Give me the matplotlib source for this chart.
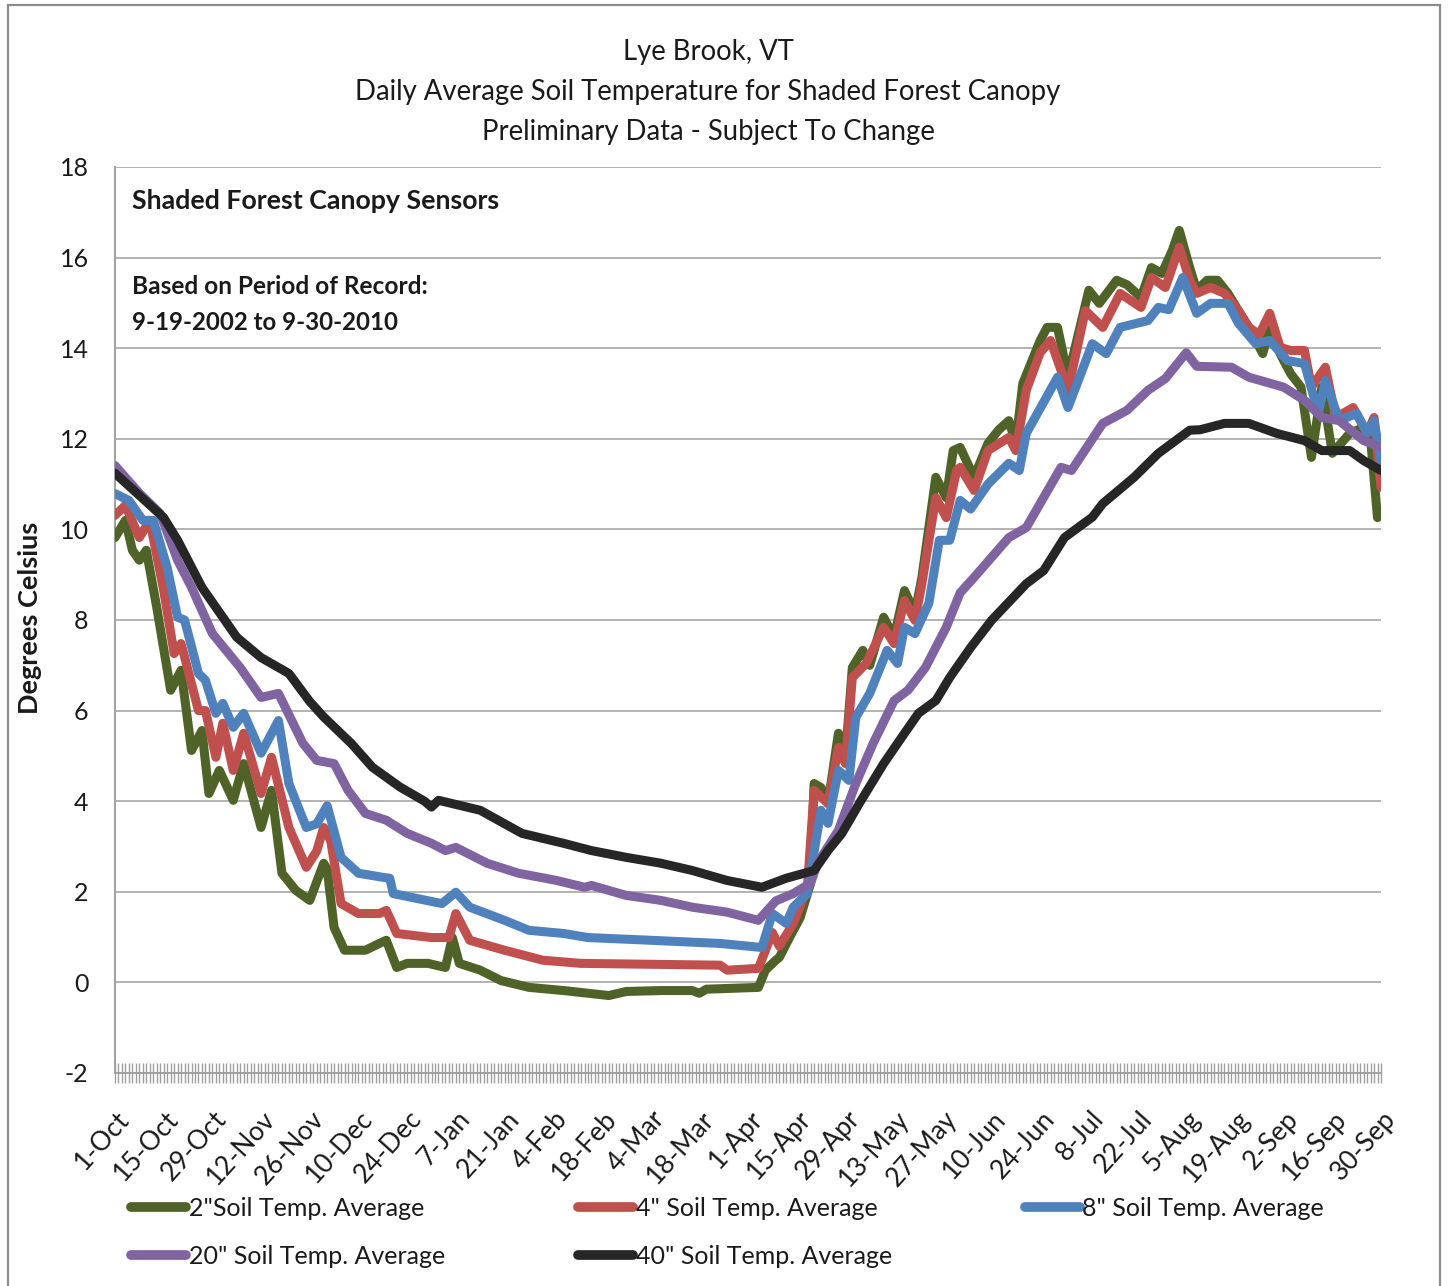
import matplotlib
matplotlib.use("Agg")
import matplotlib.pyplot as plt
from matplotlib.patches import Rectangle
from matplotlib.transforms import ScaledTranslation
import numpy as np

plt.rcParams['font.family'] = ['Lato', 'DejaVu Sans']
plt.rcParams['axes.unicode_minus'] = False

# ---- data (day index from 1-Oct, value in degrees C) ----
days_2in = [0, 3, 5, 7, 9, 12, 16, 19, 22, 25, 27, 30, 34, 37, 42, 45, 48, 52, 56, 60, 61, 63, 66,
            72, 76, 78, 81, 84, 90, 95, 97, 99, 105, 111, 119, 129, 142, 147, 157, 166, 168, 170,
            185, 187, 190, 191, 194, 197, 200, 201, 203, 205, 208, 210, 212, 215, 217, 221, 224,
            227, 230, 232, 236, 239, 241, 243, 247, 251, 254, 257, 259, 261, 266, 268, 271, 274,
            280, 283, 288, 291, 295, 298, 301, 304, 306, 309, 311, 314, 317, 320, 323, 326, 330,
            332, 335, 338, 341, 344, 347, 350, 355, 359, 361, 363, 364]
temp_2in = [9.82, 10.2, 9.54, 9.32, 9.54, 8.28, 6.45, 6.89, 5.12, 5.56, 4.17, 4.68, 4.02, 4.83,
            3.42, 4.24, 2.41, 2.03, 1.81, 2.63, 2.5, 1.21, 0.71, 0.71, 0.86, 0.93, 0.33, 0.42,
            0.42, 0.33, 0.99, 0.42, 0.27, 0.04, -0.11, -0.18, -0.29, -0.2, -0.18, -0.18, -0.24,
            -0.15, -0.11, 0.27, 0.49, 0.55, 1.0, 1.43, 2.19, 4.39, 4.3, 3.95, 5.5, 4.97, 6.95,
            7.33, 7.0, 8.06, 7.62, 8.65, 8.15, 8.94, 11.15, 10.7, 11.74, 11.81, 11.15, 11.9,
            12.19, 12.4, 11.9, 13.22, 14.17, 14.46, 14.46, 13.36, 15.28, 14.99, 15.5, 15.4,
            15.12, 15.78, 15.65, 16.16, 16.6, 15.78, 15.28, 15.5, 15.5, 15.21, 14.83, 14.46,
            13.88, 14.46, 13.88, 13.44, 13.14, 11.59, 13.14, 11.68, 12.12, 12.25, 12.0, 10.26,
            10.35]

days_4in = [0, 3, 7, 10, 14, 17, 19, 24, 26, 29, 31, 34, 37, 42, 45, 50, 55, 58, 60, 62, 65, 70,
            76, 78, 81, 91, 96, 98, 102, 112, 123, 134, 174, 176, 185, 189, 191, 195, 198, 199,
            201, 205, 208, 210, 212, 216, 221, 224, 227, 230, 232, 236, 239, 242, 243, 247, 251,
            257, 259, 262, 266, 269, 274, 279, 284, 289, 295, 298, 302, 306, 309, 311, 315, 319,
            323, 326, 329, 332, 335, 338, 342, 344, 348, 351, 356, 360, 362, 364]
temp_4in = [10.31, 10.53, 9.82, 10.2, 8.65, 7.26, 7.48, 6.0, 6.0, 4.97, 5.72, 4.68, 5.5, 4.17,
            4.97, 3.42, 2.54, 2.9, 3.42, 3.13, 1.74, 1.52, 1.52, 1.59, 1.08, 0.99, 0.99, 1.52,
            0.93, 0.71, 0.49, 0.42, 0.38, 0.27, 0.31, 1.1, 0.8, 1.3, 1.88, 2.0, 4.24, 3.95, 5.19,
            4.83, 6.73, 7.04, 7.84, 7.48, 8.43, 7.99, 8.8, 10.7, 10.26, 11.3, 11.37, 10.86,
            11.74, 12.03, 11.74, 13.07, 13.9, 14.17, 13.07, 14.83, 14.46, 15.21, 14.9, 15.56,
            15.34, 16.23, 15.5, 15.21, 15.34, 15.21, 14.83, 14.46, 14.3, 14.77, 14.02, 13.95,
            13.95, 13.14, 13.58, 12.47, 12.69, 12.12, 12.47, 10.93]

days_8in = [0, 4, 8, 11, 15, 18, 20, 24, 26, 29, 31, 34, 37, 42, 47, 50, 55, 58, 61, 65, 70, 77,
            79, 80, 94, 98, 102, 112, 119, 129, 136, 154, 174, 186, 189, 193, 195, 199, 203, 205,
            208, 211, 213, 217, 222, 225, 227, 230, 234, 237, 240, 243, 246, 251, 257, 260, 262,
            271, 274, 281, 285, 289, 297, 300, 303, 307, 311, 315, 320, 323, 328, 332, 337, 342,
            346, 348, 352, 357, 360, 362, 364]
temp_8in = [10.79, 10.64, 10.2, 10.2, 9.16, 8.06, 8.0, 6.82, 6.67, 5.94, 6.16, 5.63, 5.94, 5.06,
            5.78, 4.39, 3.42, 3.5, 3.9, 2.76, 2.41, 2.32, 2.3, 1.96, 1.74, 1.99, 1.66, 1.37, 1.15,
            1.08, 0.99, 0.93, 0.86, 0.77, 1.52, 1.3, 1.66, 1.96, 3.8, 3.51, 4.68, 4.46, 5.85,
            6.38, 7.33, 7.04, 7.84, 7.7, 8.37, 9.76, 9.76, 10.64, 10.45, 11.0, 11.46, 11.3, 12.12,
            13.36, 12.69, 14.1, 13.88, 14.46, 14.61, 14.9, 14.85, 15.56, 14.77, 14.99, 14.99,
            14.55, 14.1, 14.17, 13.73, 13.66, 12.56, 13.29, 12.4, 12.56, 12.12, 12.4, 11.52]

days_20in = [0, 7, 13, 18, 22, 28, 36, 42, 47, 54, 58, 63, 67, 72, 78, 84, 91, 95, 98, 107, 116,
             127, 135, 137, 147, 157, 166, 176, 185, 190, 195, 200, 202, 208, 213, 218, 224, 228,
             233, 239, 243, 247, 252, 257, 262, 272, 275, 284, 291, 297, 302, 308, 311, 321, 326,
             336, 342, 347, 352, 359, 364]
temp_20in = [11.41, 10.8, 10.35, 9.32, 8.72, 7.7, 6.95, 6.29, 6.38, 5.28, 4.9, 4.83, 4.24, 3.73,
             3.58, 3.29, 3.07, 2.91, 2.98, 2.63, 2.41, 2.25, 2.1, 2.14, 1.92, 1.81, 1.66, 1.55,
             1.37, 1.8, 1.96, 2.19, 2.63, 3.36, 4.39, 5.28, 6.22, 6.45, 6.95, 7.84, 8.6, 8.94,
             9.38, 9.82, 10.04, 11.37, 11.3, 12.34, 12.63, 13.07, 13.33, 13.9, 13.6, 13.58,
             13.36, 13.14, 12.85, 12.47, 12.4, 11.96, 11.81]

days_40in = [0, 14, 18, 25, 35, 42, 50, 56, 60, 68, 74, 82, 89, 91, 93, 105, 117, 129, 137, 147,
             157, 166, 176, 186, 193, 201, 205, 209, 214, 221, 227, 231, 236, 240, 246, 252, 262,
             267, 273, 281, 284, 293, 300, 309, 312, 319, 326, 334, 342, 347, 355, 359, 364]
temp_40in = [11.24, 10.26, 9.76, 8.72, 7.62, 7.17, 6.82, 6.2, 5.86, 5.27, 4.75, 4.31, 4.0, 3.87,
             4.02, 3.8, 3.29, 3.07, 2.91, 2.76, 2.63, 2.47, 2.25, 2.1, 2.3, 2.47, 2.91, 3.29, 3.95,
             4.83, 5.5, 5.94, 6.22, 6.73, 7.39, 7.99, 8.8, 9.09, 9.82, 10.27, 10.57, 11.15, 11.68,
             12.19, 12.2, 12.34, 12.34, 12.12, 11.96, 11.74, 11.74, 11.52, 11.3]

tick_labels = ['1-Oct', '15-Oct', '29-Oct', '12-Nov', '26-Nov', '10-Dec', '24-Dec', '7-Jan',
               '21-Jan', '4-Feb', '18-Feb', '4-Mar', '18-Mar', '1-Apr', '15-Apr', '29-Apr',
               '13-May', '27-May', '10-Jun', '24-Jun', '8-Jul', '22-Jul', '5-Aug', '19-Aug',
               '2-Sep', '16-Sep', '30-Sep']
series_names = ['2"Soil Temp. Average', '4" Soil Temp. Average', '8" Soil Temp. Average',
                '20" Soil Temp. Average', '40" Soil Temp. Average']
title_lines = ['Lye Brook, VT',
               'Daily Average Soil Temperature for Shaded Forest Canopy',
               'Preliminary Data - Subject To Change']

colors = ['#4F6228', '#C0504D', '#4F81BD', '#8064A2', '#262626']

W, H = 1448, 1286
fig = plt.figure(figsize=(W / 100, H / 100), dpi=100)
fig.patch.set_facecolor('white')

# outer border
fig.add_artist(Rectangle((8 / W, -0.02), 1432 / W, 1.02 - 5 / H, transform=fig.transFigure,
                         fill=False, edgecolor='#8c8c8c', linewidth=1.6))

ax = fig.add_axes([115 / W, 1 - 1073 / H, (1381 - 115) / W, (1073 - 167) / H])
ax.set_xlim(0, 364)
ax.set_ylim(-2, 18)

all_days = [days_2in, days_4in, days_8in, days_20in, days_40in]
all_temps = [temp_2in, temp_4in, temp_8in, temp_20in, temp_40in]
lines = []
for d, t, c, n in zip(all_days, all_temps, colors, series_names):
    ln, = ax.plot(d, t, color=c, lw=6.5, label=n, solid_joinstyle='round',
                  solid_capstyle='round', zorder=3)
    lines.append(ln)

# grid
ax.set_yticks(np.arange(-2, 19, 2))
ax.yaxis.grid(True, color='#a6a6a6', lw=1.2, zorder=0)
ax.set_axisbelow(True)
for s in ['top', 'right']:
    ax.spines[s].set_visible(False)
for s in ['left', 'bottom']:
    ax.spines[s].set_color('#a0a0a0')
    ax.spines[s].set_linewidth(1.4)
ax.tick_params(axis='y', length=0, pad=19, labelsize=18, labelcolor='#1a1a1a')

ax.set_xticks(np.arange(0, 365, 14))
ax.set_xticks(np.arange(0, 365, 1), minor=True)
ax.tick_params(axis='x', which='both', direction='inout', length=14, width=1.0, color='#a0a0a0')
ax.tick_params(axis='x', which='major', pad=17, labelsize=19, labelcolor='#1a1a1a')
ax.set_xticklabels(tick_labels, rotation=48, ha='right', va='top', rotation_mode='anchor')
off = ScaledTranslation(1 / 100, 0, fig.dpi_scale_trans)
for lbl in ax.get_xticklabels():
    lbl.set_transform(lbl.get_transform() + off)

# y label
fig.text(30 / W, 1 - 618 / H, 'Degrees Celsius', rotation=90, ha='center', va='center',
         fontsize=19.5, fontweight='bold', color='#1a1a1a')

# title
for i, tl in enumerate(title_lines):
    fig.text(708 / W, 1 - (52 + 40 * i) / H, tl, ha='center', va='center', fontsize=19.8,
             color='#1a1a1a')

# annotations
fig.text(132 / W, 1 - 201 / H, 'Shaded Forest Canopy Sensors', ha='left', va='center',
         fontsize=19.3, fontweight='bold', color='#1a1a1a')
fig.text(132 / W, 1 - 286 / H, 'Based on Period of Record:', ha='left', va='center',
         fontsize=17.6, fontweight='bold', color='#1a1a1a')
fig.text(132 / W, 1 - 322 / H, '9-19-2002 to 9-30-2010', ha='left', va='center',
         fontsize=17.3, fontweight='bold', color='#1a1a1a')

# legend (row-major order in image: 2, 4, 8 / 20, 40)
order = [0, 3, 1, 4, 2]
leg = fig.legend([lines[i] for i in order], [series_names[i] for i in order], ncol=3,
                 loc='upper left', bbox_to_anchor=(131 / W, 1 - 1197 / H), frameon=False,
                 fontsize=18, handlelength=2.2, handletextpad=0.12, columnspacing=5.3,
                 labelspacing=1.0, borderpad=0, borderaxespad=0)
for t in leg.get_texts():
    t.set_color('#1a1a1a')
for l in leg.get_lines():
    l.set_linewidth(7)
    l.set_solid_capstyle('round')

fig.savefig('out.png', dpi=100)
